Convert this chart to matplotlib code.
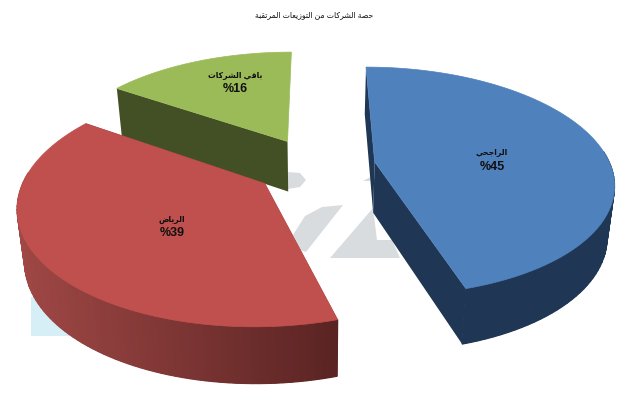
import numpy as np
import matplotlib
matplotlib.use("Agg")
import matplotlib.pyplot as plt
from matplotlib.colors import to_rgb
from matplotlib.patches import Polygon

title = "حصة الشركات من التوزيعات المرتقبة"
names = ["الراجحي", "الرياض", "باقي الشركات"]
shares = [45.4, 39.0, 15.6]
percent_labels = ["%45", "%39", "%16"]

top_colors = ["#4f81bd", "#c0504d", "#9bbb59"]
side_left = ["#1f3654", "#a04846", "#434f25"]
side_right = ["#1f3654", "#5a2423", "#434f25"]
label_xy = [(492, 160), (172, 226.5), (235, 82.5)]

# projection of the tilted pie, fitted by eye to the picture
VP_X, VP_Y = 315, -494
SCALE_X, FLOOR_Y = 236, 660
PERSP = 0.17
EXPLODE = 0.257


# matplotlib does no arabic shaping, so join the letters by hand
FOUR_FORMS = {"ب": 0xFE8F, "ت": 0xFE95, "ج": 0xFE9D, "ح": 0xFEA1, "ش": 0xFEB5, "ص": 0xFEB9,
              "ض": 0xFEBD, "ع": 0xFEC9, "ق": 0xFED5, "ك": 0xFED9, "ل": 0xFEDD, "م": 0xFEE1,
              "ن": 0xFEE5, "ي": 0xFEF1}
TWO_FORMS = {"ا": 0xFE8D, "ة": 0xFE93, "ر": 0xFEAD, "ز": 0xFEAF, "و": 0xFEED}


def shape(text):
    out = []
    for i, c in enumerate(text):
        if c not in FOUR_FORMS and c not in TWO_FORMS:
            out.append(c)
            continue
        prev_joins = i > 0 and text[i - 1] in FOUR_FORMS
        next_joins = i < len(text) - 1 and (text[i + 1] in FOUR_FORMS or text[i + 1] in TWO_FORMS)
        if c in TWO_FORMS:
            out.append(chr(TWO_FORMS[c] + (1 if prev_joins else 0)))
        else:
            form = {(False, False): 0, (True, False): 1, (False, True): 2, (True, True): 3}[(prev_joins, next_joins)]
            out.append(chr(FOUR_FORMS[c] + form))
    return "".join(out[::-1])


def project(X, Y):
    w = 1 + PERSP * Y
    return VP_X + SCALE_X * X / w, VP_Y + FLOOR_Y / w


def extrude(sx, sy, Y):
    # sides get shorter and pull in slightly towards the back
    w = 1 + PERSP * np.asarray(Y)
    return VP_X + (sx - VP_X) * 0.975, sy + 51 / w ** 0.5


fig = plt.figure(figsize=(6.4, 4), dpi=100, facecolor="white")
ax = fig.add_axes([0, 0, 1, 1])
ax.set_xlim(0, 640)
ax.set_ylim(400, 0)
ax.axis("off")

# faint watermark behind the pie
ax.add_patch(Polygon([(31, 297), (95, 297), (95, 336), (31, 336)], fc="#d6eef5", ec="none", zorder=1))
for pts in [
    [(288, 172), (300, 173), (306, 180), (300, 187), (288, 189)],
    [(293, 235), (305, 216), (322, 207), (343, 205), (306, 252), (300, 250)],
    [(330, 258), (373, 208), (377, 240), (392, 240), (400, 258)],
    [(363, 181), (372, 176), (376, 181)],
]:
    ax.add_patch(Polygon(pts, fc="#d9dcdf", ec="none", zorder=1))

edges = np.cumsum([0] + shares) * 3.6
# green, then red, then blue: back to front
for i in [2, 1, 0]:
    a0, a1 = np.radians(edges[i]), np.radians(edges[i + 1])
    mid = (a0 + a1) / 2
    ox, oy = EXPLODE * np.sin(mid), EXPLODE * np.cos(mid)
    t = np.linspace(a0, a1, 90)
    rim_X, rim_Y = ox + np.sin(t), oy + np.cos(t)
    rim_x, rim_y = project(rim_X, rim_Y)
    rim_xb, rim_yb = extrude(rim_x, rim_y, rim_Y)
    ax_x, ax_y = project(ox, oy)
    ax_xb, ax_yb = extrude(ax_x, ax_y, oy)
    z = 2 + (2 - i)

    # radial faces; the 12 o'clock edge of the last slice does not show
    for j in [0, -1]:
        if i == 2 and j == -1:
            continue
        ax.add_patch(Polygon([(ax_x, ax_y), (rim_x[j], rim_y[j]), (rim_xb[j], rim_yb[j]), (ax_xb, ax_yb)],
                             fc=side_left[i] if j == 0 and i != 1 else side_right[i],
                             ec="none", zorder=z))

    # outer wall, only the front part, shaded left to right
    front = np.where(np.cos(t) < 0.1)[0]
    if len(front) > 1:
        c_l, c_r = np.array(to_rgb(side_left[i])), np.array(to_rgb(side_right[i]))
        base = list(zip(rim_x[front], rim_y[front])) + list(zip(rim_xb[front][::-1], rim_yb[front][::-1]))
        ax.add_patch(Polygon(base, fc=(c_l + c_r) / 2, ec="none", zorder=z))
        for k in front[:-1]:
            f = (rim_x[k] - rim_x[front].min()) / (rim_x[front].max() - rim_x[front].min())
            c = c_l + (c_r - c_l) * f
            ax.add_patch(Polygon([(rim_x[k], rim_y[k]), (rim_x[k + 1], rim_y[k + 1]),
                                  (rim_xb[k + 1], rim_yb[k + 1]), (rim_xb[k], rim_yb[k])],
                                 fc=c, ec=c, lw=0.8, zorder=z))

    top = [(ax_x, ax_y)] + list(zip(rim_x, rim_y))
    ax.add_patch(Polygon(top, fc=top_colors[i], ec=top_colors[i], lw=0.5, zorder=z))

    lx, ly = label_xy[i]
    ax.text(lx, ly - 7, shape(names[i]), ha="center", va="center", fontsize=5.6, fontweight="bold",
            color="#101010", family=["Liberation Sans", "DejaVu Sans"], zorder=10)
    ax.text(lx, ly + 7, percent_labels[i], ha="center", va="center", fontsize=9, fontweight="bold",
            color="#101010", family=["Liberation Sans", "DejaVu Sans"], zorder=10)

ax.text(314, 15, shape(title), ha="center", va="center", fontsize=5.6, color="#111111",
        family=["Liberation Sans", "DejaVu Sans"], zorder=10)

fig.savefig("out.png", dpi=100, facecolor="white")
